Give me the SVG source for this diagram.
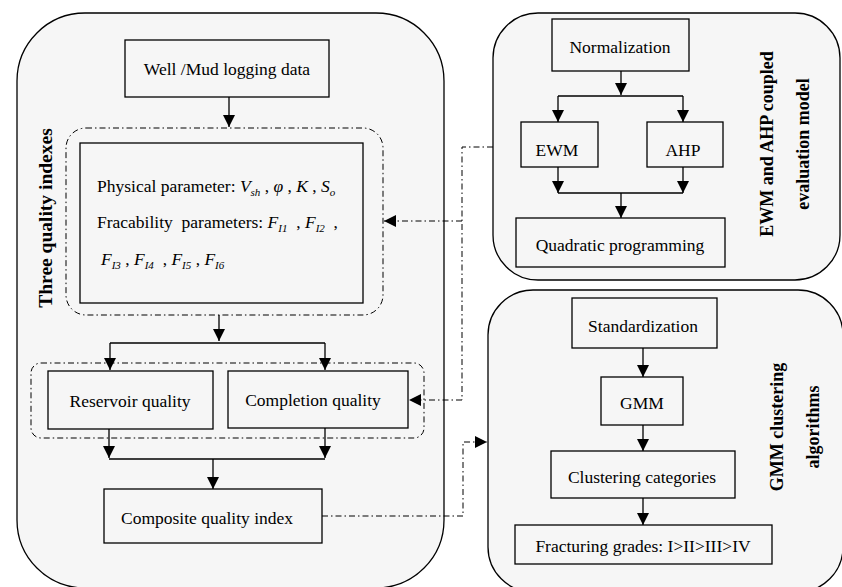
<svg xmlns="http://www.w3.org/2000/svg" width="842" height="587" viewBox="0 0 842 587">
<defs>
<marker id="ah" markerUnits="userSpaceOnUse" markerWidth="12" markerHeight="12" viewBox="0 0 12 12" refX="12" refY="6" orient="auto">
<path d="M0,0 L12,6 L0,12 Z" fill="#000"/>
</marker>
<style>
.panel{fill:#f6f6f6;stroke:#000;stroke-width:1.3}
.box{fill:#f6f6f6;stroke:#000;stroke-width:1.3}
.grp{fill:none;stroke:#000;stroke-width:1;stroke-dasharray:6 3 1.5 3}
.t{font-family:"Liberation Serif","Times New Roman",serif;font-size:17.5px;fill:#000;text-anchor:middle;dominant-baseline:central}
.f{font-family:"Liberation Serif","Times New Roman",serif;font-size:17.5px;fill:#000}
.i{font-style:italic}
.s{font-style:italic;font-size:11px}
.title{font-family:"Liberation Serif","Times New Roman",serif;font-size:18px;font-weight:bold;fill:#000;text-anchor:middle;dominant-baseline:central}
.big{font-size:19.5px}
.c{fill:none;stroke:#000;stroke-width:1.3}
.ca{fill:none;stroke:#000;stroke-width:1.3;marker-end:url(#ah)}
.d{fill:none;stroke:#000;stroke-width:1;stroke-dasharray:6 3 1.5 3}
.da{fill:none;stroke:#000;stroke-width:1;stroke-dasharray:6 3 1.5 3;marker-end:url(#ah)}
</style>
</defs>

<g id="panel-left">
<rect class="panel" x="17" y="13" width="427" height="575" rx="68" ry="68"/>
<text class="title big" transform="translate(45,218) rotate(-90)">Three quality indexes</text>
</g>
<g id="panel-ewm">
<rect class="panel" x="493" y="13" width="347" height="267" rx="45" ry="45"/>
<text class="title" transform="translate(767,144) rotate(-90)">EWM and AHP coupled</text>
<text class="title" transform="translate(803,144) rotate(-90)">evaluation model</text>
</g>
<g id="panel-gmm">
<rect class="panel" x="488" y="290" width="355" height="302" rx="45" ry="45"/>
<text class="title" transform="translate(777,427) rotate(-90)">GMM clustering</text>
<text class="title" transform="translate(813,427) rotate(-90)">algorithms</text>
</g>

<g id="group-params">
<rect class="grp" x="66" y="128" width="317" height="187" rx="20" ry="20"/>
</g>
<g id="group-quality">
<rect class="grp" x="31" y="363" width="393" height="75" rx="10" ry="10"/>
</g>

<g id="well-data">
<rect class="box" x="125" y="40" width="204" height="57"/>
<text class="t" x="227" y="69">Well /Mud logging data</text>
</g>
<g id="parameters">
<rect class="box" x="80" y="143" width="283" height="160"/>
<text class="f" x="97" y="192" xml:space="preserve">Physical parameter: <tspan class="i">V</tspan><tspan class="s" dy="4">sh</tspan><tspan dy="-4"> , </tspan><tspan class="i">φ</tspan> , <tspan class="i">K</tspan> , <tspan class="i">S</tspan><tspan class="s" dy="4">o</tspan></text>
<text class="f" x="97" y="228" xml:space="preserve">Fracability  parameters: <tspan class="i">F</tspan><tspan class="s" dy="4">I1</tspan><tspan dy="-4">  , </tspan><tspan class="i">F</tspan><tspan class="s" dy="4">I2</tspan><tspan dy="-4">  ,</tspan></text>
<text class="f" x="101" y="265" xml:space="preserve"><tspan class="i">F</tspan><tspan class="s" dy="4">I3</tspan><tspan dy="-4"> , </tspan><tspan class="i">F</tspan><tspan class="s" dy="4">I4</tspan><tspan dy="-4">  , </tspan><tspan class="i">F</tspan><tspan class="s" dy="4">I5</tspan><tspan dy="-4"> , </tspan><tspan class="i">F</tspan><tspan class="s" dy="4">I6</tspan></text>
</g>
<g id="reservoir">
<rect class="box" x="48" y="371" width="165" height="58"/>
<text class="t" x="130" y="401">Reservoir quality</text>
</g>
<g id="completion">
<rect class="box" x="228" y="371" width="180" height="57"/>
<text class="t" x="313" y="400">Completion quality</text>
</g>
<g id="composite">
<rect class="box" x="104" y="489" width="218" height="54"/>
<text class="t" x="207" y="518">Composite quality index</text>
</g>

<g id="normalization">
<rect class="box" x="552" y="19" width="137" height="52"/>
<text class="t" x="620" y="47">Normalization</text>
</g>
<g id="ewm">
<rect class="box" x="521" y="122" width="77" height="45"/>
<text class="t" x="557" y="150">EWM</text>
</g>
<g id="ahp">
<rect class="box" x="647" y="122" width="76" height="45"/>
<text class="t" x="683" y="150">AHP</text>
</g>
<g id="quadratic">
<rect class="box" x="516" y="218" width="209" height="49"/>
<text class="t" x="620" y="245">Quadratic programming</text>
</g>

<g id="standardization">
<rect class="box" x="572" y="298" width="145" height="50"/>
<text class="t" x="643" y="326">Standardization</text>
</g>
<g id="gmm">
<rect class="box" x="601" y="377" width="82" height="48"/>
<text class="t" x="642" y="403">GMM</text>
</g>
<g id="clustering">
<rect class="box" x="551" y="451" width="184" height="47"/>
<text class="t" x="642" y="477">Clustering categories</text>
</g>
<g id="fracturing">
<rect class="box" x="515" y="525" width="257" height="39"/>
<text class="t" x="643" y="546">Fracturing grades: I&gt;II&gt;III&gt;IV</text>
</g>

<g id="connectors">
<path class="ca" d="M229,97 V127"/>
<path class="ca" d="M219,315 V341"/>
<path class="c" d="M110,343 H325"/>
<path class="ca" d="M110,343 V370"/>
<path class="ca" d="M325,343 V370"/>
<path class="ca" d="M109,429 V458"/>
<path class="ca" d="M325,428 V458"/>
<path class="c" d="M109,459 H325"/>
<path class="ca" d="M213,459 V489"/>

<path class="d" d="M493,147 H462 V400"/>
<path class="da" d="M462,221 H384"/>
<path class="da" d="M462,400 H409"/>
<path class="da" d="M322,516 H463 V442 H487"/>

<path class="ca" d="M621,71 V95"/>
<path class="c" d="M558,96 H683"/>
<path class="ca" d="M558,96 V122"/>
<path class="ca" d="M683,96 V122"/>
<path class="ca" d="M558,167 V193"/>
<path class="ca" d="M683,167 V193"/>
<path class="c" d="M558,193 H683"/>
<path class="ca" d="M621,193 V218"/>

<path class="ca" d="M643,348 V377"/>
<path class="ca" d="M643,425 V451"/>
<path class="ca" d="M643,498 V525"/>
</g>
</svg>
